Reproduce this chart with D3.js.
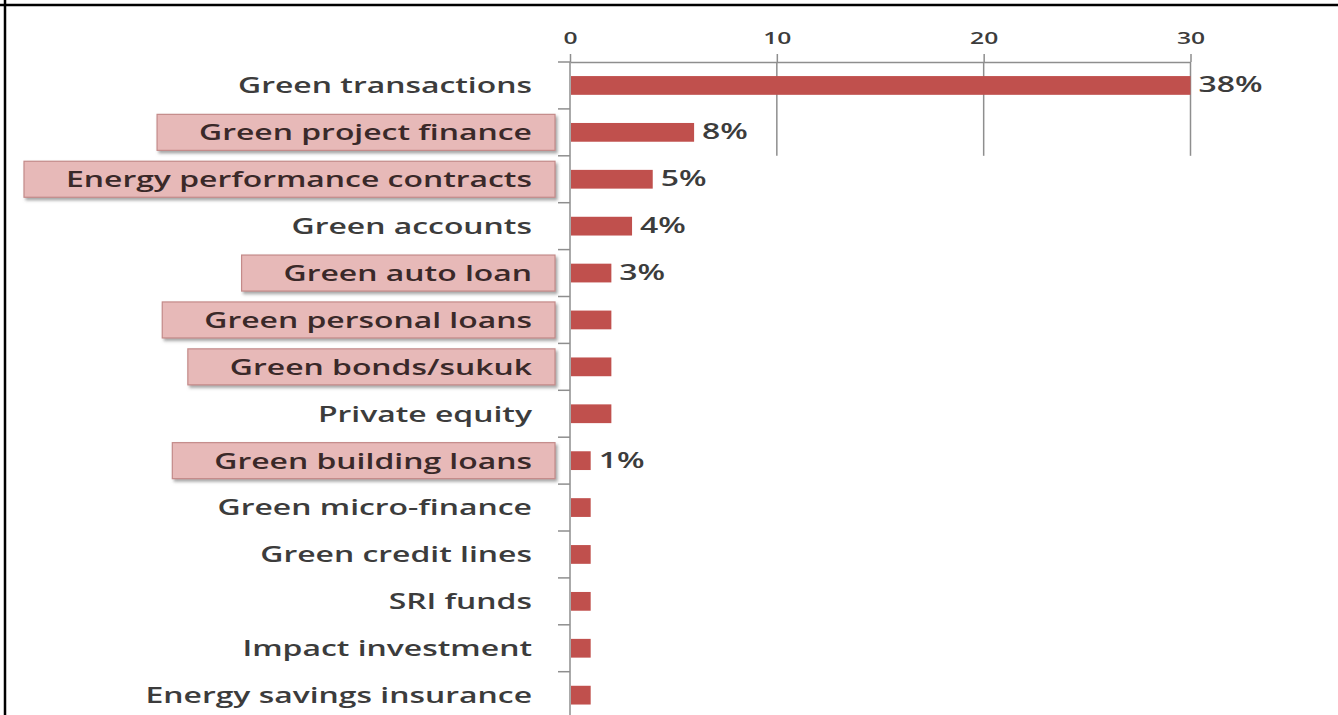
<!DOCTYPE html>
<html>
<head>
<meta charset="utf-8">
<script src="https://cdn.jsdelivr.net/npm/d3@7/dist/d3.min.js"></script>
<style>
  html, body { margin: 0; padding: 0; background: #fff; }
  svg { display: block; }
  text { font-family: "Open Sans", "DejaVu Sans", sans-serif; }
</style>
</head>
<body>
<svg id="chart" width="1338" height="715"></svg>
<script>
// Survey: green finance products offered (number of mentions)
const categories = [
  "Green transactions",
  "Green project finance",
  "Energy performance contracts",
  "Green accounts",
  "Green auto loan",
  "Green personal loans",
  "Green bonds/sukuk",
  "Private equity",
  "Green building loans",
  "Green micro-finance",
  "Green credit lines",
  "SRI funds",
  "Impact investment",
  "Energy savings insurance"
];
const counts = [30, 6, 4, 3, 2, 2, 2, 2, 1, 1, 1, 1, 1, 1];
const respondents = 79;
const labelledCategories = [
  "Green transactions", "Green project finance", "Energy performance contracts",
  "Green accounts", "Green auto loan", "Green building loans"
];
const highlightedCategories = [
  "Green project finance", "Energy performance contracts", "Green auto loan",
  "Green personal loans", "Green bonds/sukuk", "Green building loans"
];
const xTicks = [0, 10, 20, 30];

const W = 1338, H = 715;
const stretch = 1.45;          // wide lettering
const barColor = "#c0504d";
const axisColor = "#8e8e8e";

const rows = categories.map((c, i) => ({ name: c, value: counts[i] }));

const svg = d3.select("#chart");

const defs = svg.append("defs");
const shadow = defs.append("filter").attr("id", "boxShadow")
  .attr("x", "-5%").attr("y", "-30%").attr("width", "115%").attr("height", "170%");
shadow.append("feDropShadow")
  .attr("dx", 2).attr("dy", 2.5).attr("stdDeviation", 1.6)
  .attr("flood-color", "#6b6b6b").attr("flood-opacity", 0.6);

// scales
const x = d3.scaleLinear().domain([0, 30]).range([570, 1190.5]);
const rowStep = 46.9;
const plotTop = 62;
const y = d3.scaleBand()
  .domain(categories)
  .range([plotTop, plotTop + rowStep * categories.length])
  .paddingInner(0.6)
  .paddingOuter(0.3);

const yc = d => y(d) + y.bandwidth() / 2;

// vertical gridlines through the first two rows
const gridBottom = yc(categories[1]) + y.step() / 2;
svg.append("g")
  .selectAll("line")
  .data(xTicks.filter(t => t > 0))
  .join("line")
  .attr("x1", d => x(d)).attr("x2", d => x(d))
  .attr("y1", plotTop).attr("y2", gridBottom)
  .attr("stroke", axisColor).attr("stroke-width", 1.5);

// top value axis
const xAxis = svg.append("g")
  .attr("transform", `translate(0,${plotTop})`)
  .call(d3.axisTop(x).tickValues(xTicks).tickSize(8).tickSizeOuter(0).tickPadding(10));
xAxis.select(".domain").attr("stroke", axisColor).attr("stroke-width", 1.5);
xAxis.selectAll(".tick line").attr("stroke", axisColor).attr("stroke-width", 1.5);
xAxis.selectAll(".tick text")
  .attr("transform", `scale(${stretch},1)`)
  .attr("font-size", 17).attr("font-weight", 600).attr("fill", "#3c3c3c");

// category axis line with ticks between rows
svg.append("line")
  .attr("x1", x(0)).attr("x2", x(0))
  .attr("y1", plotTop).attr("y2", H)
  .attr("stroke", axisColor).attr("stroke-width", 1.5);
svg.append("g")
  .selectAll("line")
  .data(categories)
  .join("line")
  .attr("x1", x(0) - 12).attr("x2", x(0))
  .attr("y1", d => yc(d) - y.step() / 2)
  .attr("y2", d => yc(d) - y.step() / 2)
  .attr("stroke", axisColor).attr("stroke-width", 1.5);

// category labels (highlighted ones sit in pink callout boxes)
const labelRight = x(0) - 38;
const labels = svg.append("g").selectAll("g")
  .data(rows)
  .join("g")
  .attr("transform", d => `translate(${labelRight},${yc(d.name)})`);

labels.each(function(d) {
  const g = d3.select(this);
  const hi = highlightedCategories.includes(d.name);
  const rect = hi ? g.append("rect") : null;
  const t = g.append("text")
    .attr("transform", `scale(${stretch},1)`)
    .attr("text-anchor", "end")
    .attr("dy", "0.36em")
    .attr("font-size", 22)
    .attr("font-weight", 600)
    .attr("fill", hi ? "#3a2929" : "#3c3c3c")
    .text(d.name);
  if (hi) {
    const w = t.node().getComputedTextLength() * stretch;
    const left = Math.max(24 - labelRight, -w - 42);
    const right = 23;
    rect.attr("x", left).attr("y", -18)
      .attr("width", right - left).attr("height", 36)
      .attr("fill", "#e7b9b8")
      .attr("stroke", "#c48a89").attr("stroke-width", 1.2)
      .attr("filter", "url(#boxShadow)");
  }
});

// bars
svg.append("g")
  .selectAll("rect")
  .data(rows)
  .join("rect")
  .attr("x", x(0) + 1)
  .attr("y", d => y(d.name))
  .attr("width", d => x(d.value) - x(0) - 1)
  .attr("height", y.bandwidth())
  .attr("fill", barColor);

// share of respondents beside selected bars
svg.append("g")
  .selectAll("text")
  .data(rows.filter(d => labelledCategories.includes(d.name)))
  .join("text")
  .attr("transform", d => `translate(${x(d.value) + 8},${yc(d.name) - 1}) scale(${stretch},1)`)
  .attr("dy", "0.36em")
  .attr("font-size", 22)
  .attr("font-weight", 600)
  .attr("fill", "#3c3c3c")
  .text(d => Math.round(d.value / respondents * 100) + "%");

// frame
svg.append("line").attr("x1", 0).attr("x2", W).attr("y1", 5).attr("y2", 5)
  .attr("stroke", "#000").attr("stroke-width", 2.5);
svg.append("line").attr("x1", 5).attr("x2", 5).attr("y1", 0).attr("y2", H)
  .attr("stroke", "#000").attr("stroke-width", 2.5);
</script>
</body>
</html>
